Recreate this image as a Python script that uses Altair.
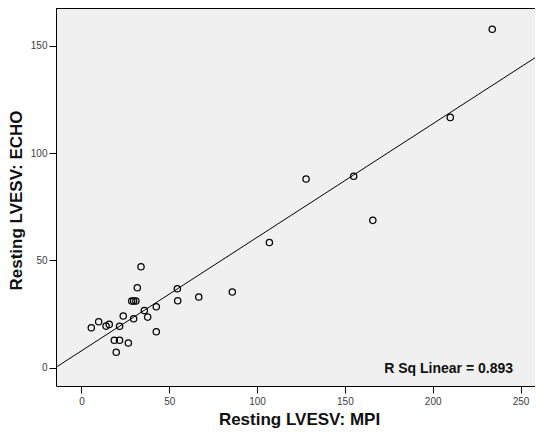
import altair as alt
import pandas as pd

# Scatter values (Resting LVESV: MPI vs ECHO)
mpi = [233.9, 210.0, 155.0, 127.9, 165.9, 107.0, 85.9, 66.8,
       33.9, 31.8, 28.6, 29.7, 31.0, 54.6, 54.8, 42.6, 35.8, 37.7,
       29.7, 23.8, 21.7, 15.8, 14.0, 9.8, 5.6, 18.7, 21.7, 26.7,
       19.8, 42.6]
echo = [157.7, 116.6, 89.2, 87.9, 68.6, 58.3, 35.2, 32.9,
        47.0, 37.2, 31.0, 31.0, 31.0, 36.7, 31.1, 28.3, 26.6, 23.5,
        22.7, 24.0, 19.2, 20.1, 19.3, 21.3, 18.5, 12.7, 12.7, 11.4,
        7.1, 16.7]

# Fit line end points
fit_mpi = [-14.5, 262.8]
fit_echo = [0.1, 146.8]

x_ticks = [0, 50, 100, 150, 200, 250]
y_ticks = [0, 50, 100, 150]
x_title = "Resting LVESV: MPI"
y_title = "Resting LVESV: ECHO"
r2_label = "R Sq Linear = 0.893"

W, H = 479, 378
FONT = "Liberation Sans"

pts = pd.DataFrame({"mpi": mpi, "echo": echo})
fit = pd.DataFrame({"mpi": fit_mpi, "echo": fit_echo})
lab = pd.DataFrame({"label": [r2_label]})

xs = alt.Scale(domain=[-14.5, 258.25], nice=False, zero=False)
ys = alt.Scale(domain=[-8.62, 167.6], nice=False, zero=False)

xaxis = alt.Axis(title=x_title, values=x_ticks, grid=False,
                 domainColor="black", domainWidth=1, tickColor="black",
                 tickSize=7, labelPadding=3, labelFontSize=10, labelFont=FONT,
                 labelColor="#3c3c3c", titleFont=FONT, titleFontSize=17,
                 titleFontWeight="bold", titleColor="#111111",
                 titleBaseline="alphabetic", titleX=243, titleY=38,
                 titleAnchor="middle")
yaxis = alt.Axis(title=y_title, values=y_ticks, grid=False,
                 domainColor="black", domainWidth=1, tickColor="black",
                 tickSize=7, labelPadding=2, labelFontSize=10, labelFont=FONT,
                 labelColor="#3c3c3c", titleFont=FONT, titleFontSize=17,
                 titleFontWeight="bold", titleColor="#111111",
                 titleBaseline="alphabetic", titleAngle=270,
                 titleX=-34.5, titleY=192, titleAlign="center")

points = alt.Chart(pts).mark_point(
    shape="circle", filled=False, color="black", size=40, strokeWidth=1.25, opacity=1
).encode(
    x=alt.X("mpi:Q", scale=xs, axis=xaxis),
    y=alt.Y("echo:Q", scale=ys, axis=yaxis),
)

line = alt.Chart(fit).mark_line(color="black", strokeWidth=1, clip=True).encode(
    x=alt.X("mpi:Q", scale=xs),
    y=alt.Y("echo:Q", scale=ys),
)

top_border = alt.Chart(lab).mark_rule(color="black", strokeWidth=1).encode(
    x=alt.value(0), x2=alt.value(W), y=alt.value(0.5)
)

text = alt.Chart(lab).mark_text(
    align="right", baseline="alphabetic", font=FONT, fontSize=14,
    fontWeight="bold", color="#111111"
).encode(
    x=alt.value(457), y=alt.value(365.3), text="label:N"
)

chart = alt.layer(line, points, top_border, text).properties(
    width=W, height=H,
    autosize=alt.AutoSizeParams(type="none"),
    padding={"left": 48, "top": 0, "right": 0, "bottom": 43},
    background="white",
).configure_view(stroke=None, fill="#f0f0f0")

chart.save("out.html", embed_options={"renderer": "svg", "actions": False})
